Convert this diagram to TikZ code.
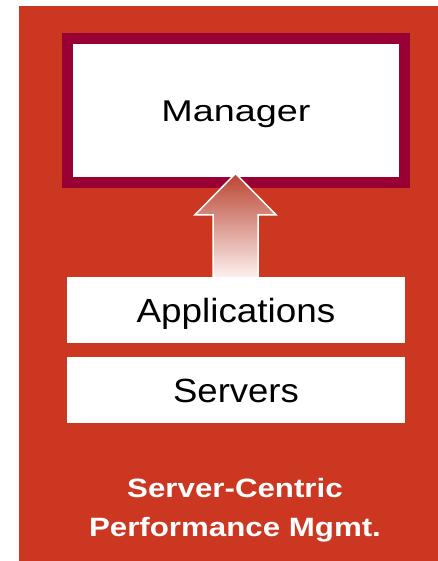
\documentclass[tikz,border=0pt]{standalone}
\usepackage{fontspec}
\setmainfont{Liberation Sans}
\usepackage{graphicx}
\usepackage{tikz}
\usetikzlibrary{positioning, calc}

\definecolor{panelred}{RGB}{204,55,34}
\definecolor{crimson}{RGB}{153,0,51}
\definecolor{arrowtop}{RGB}{186,68,50}
\definecolor{arrowbot}{RGB}{252,240,238}

\begin{document}
\begin{tikzpicture}[
    x=1pt, y=-1pt,
    layer/.style={rectangle, fill=white, minimum width=338pt, minimum height=66pt, inner sep=0pt, text height=24pt, text depth=0pt, font=\fontsize{33.5}{40}\selectfont},
    mgrbox/.style={rectangle, fill=white, draw=crimson, line width=11pt, minimum width=337pt, minimum height=144pt, inner sep=0pt, text height=21.5pt, text depth=0pt, font=\fontsize{30}{36}\selectfont},
    upflow/.style={draw=white, line width=1.5pt, top color=arrowtop, bottom color=arrowbot},
    caption/.style={align=center, text=white, inner sep=0pt, font=\fontsize{26.5}{39.4}\selectfont\bfseries},
]
    \useasboundingbox (0,0) rectangle (438,561);
    % background panel
    \fill[panelred] (19,6) rectangle (438,561);

    % Manager
    \node[mgrbox] (mgr) at (236,110.5) {\scalebox{1.26}[1]{Manager}};

    % stack
    \node[layer] (apps) at (236,310) {\scalebox{1.1}[1]{Applications}};
    \node[layer] (srv) at (236,390) {\scalebox{1.09}[1]{Servers}};

    % arrow from applications up to manager
    \coordinate (tip) at ($(mgr.south)+(-0.5,-14.5)$);
    \draw[upflow] ($(apps.north)+(-23,0)$) -- ($(apps.north)+(-23,-62)$) -- ($(apps.north)+(-41,-62)$)
        -- (tip) -- ($(apps.north)+(40,-62)$) -- ($(apps.north)+(22,-62)$) -- ($(apps.north)+(22,0)$);

    % caption
    \node[caption] (cap) at (235,510)
        {\scalebox{1.18}[1]{Server-Centric}\\ \scalebox{1.18}[1]{Performance Mgmt.}};
\end{tikzpicture}
\end{document}
